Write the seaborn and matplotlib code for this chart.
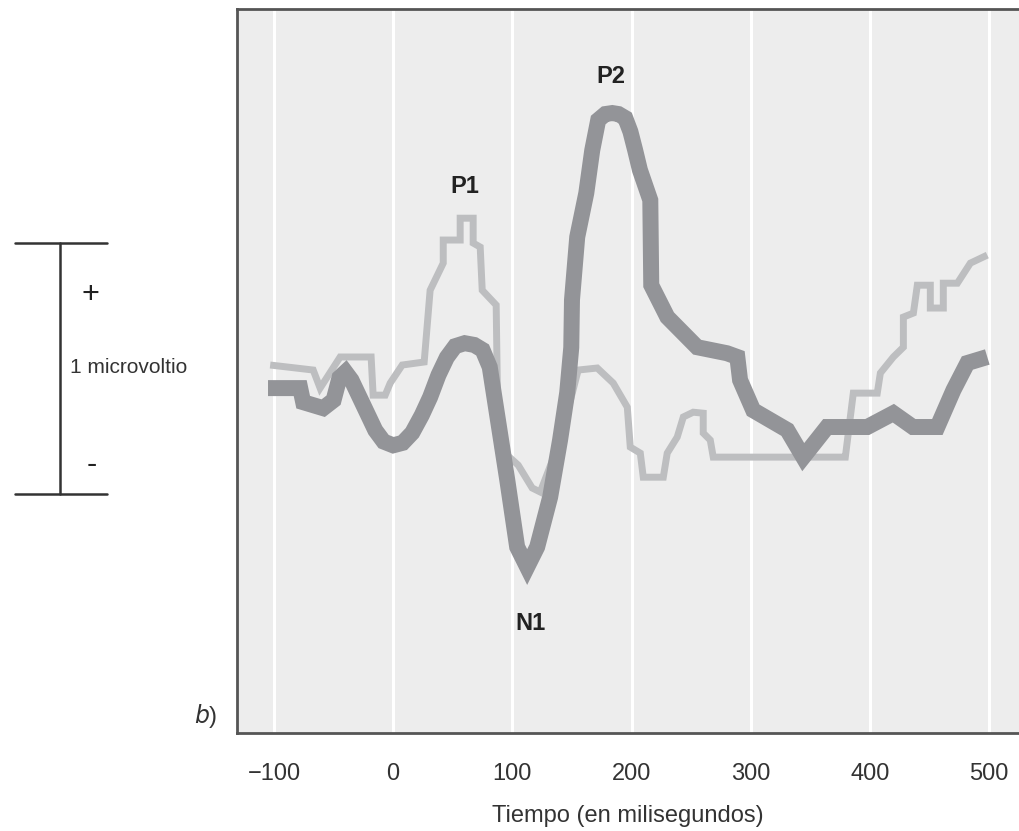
import numpy as np
import pandas as pd
import matplotlib
matplotlib.use("Agg")
import matplotlib.pyplot as plt
import seaborn as sns

# Datos (tiempo en ms, amplitud en microvoltios)
tiempo_fuerte = [-105, -78, -75.5, -58.7, -50, -45, -40, -35, -25, -15, -8, 0, 8, 16, 24, 31,
                 38, 45, 52, 60, 68, 75, 81, 87, 95.7, 104, 112.4, 120.8, 131.7, 140, 146,
                 149.4, 150, 154.4, 162, 167, 172, 178, 183.8, 189, 194.7, 199, 203, 207,
                 215.7, 216.5, 230, 255, 280, 288.7, 291, 302, 330.6, 344, 364, 397.7,
                 419.6, 436, 456.5, 470, 481.7, 498.4]
amplitud_fuerte = [-0.012, -0.012, -0.068, -0.092, -0.060, 0.030, 0.052, 0.020, -0.080,
                   -0.180, -0.225, -0.240, -0.230, -0.190, -0.120, -0.048, 0.040, 0.110,
                   0.155, 0.167, 0.160, 0.140, 0.072, -0.112, -0.378, -0.645, -0.725,
                   -0.645, -0.446, -0.219, -0.030, 0.150, 0.339, 0.590, 0.765, 0.936,
                   1.056, 1.080, 1.084, 1.080, 1.064, 1.010, 0.936, 0.857, 0.737, 0.398,
                   0.271, 0.151, 0.127, 0.112, 0.020, -0.100, -0.179, -0.287, -0.167,
                   -0.167, -0.112, -0.167, -0.167, -0.020, 0.088, 0.112]

tiempo_debil = [-103.2, -67.1, -61.3, -44.5, -18.5, -16.8, -6.7, -2.5, 7.6, 26.0, 31.0, 42.0,
                42.0, 56.2, 56.2, 67.1, 67.1, 73.0, 74.7, 86.4, 88.1, 104.9, 116.6, 123.4,
                140.1, 155.2, 171.2, 184.6, 196.4, 198.9, 207.3, 209.8, 226.6, 229.9, 238.3,
                243.4, 251.7, 260.1, 260.1, 266.0, 268.5, 377.6, 379.3, 386.0, 406.1, 408.7,
                419.6, 428.0, 428.0, 436.4, 439.7, 450.6, 450.6, 461.5, 461.5, 473.3, 484.2,
                498.4]
amplitud_debil = [0.080, 0.060, -0.012, 0.112, 0.112, -0.040, -0.040, 0.008, 0.080, 0.092,
                  0.378, 0.486, 0.578, 0.578, 0.665, 0.665, 0.566, 0.550, 0.378, 0.319,
                  -0.247, -0.319, -0.410, -0.426, -0.219, 0.060, 0.068, 0.008, -0.088,
                  -0.247, -0.271, -0.367, -0.367, -0.271, -0.207, -0.127, -0.108, -0.112,
                  -0.191, -0.219, -0.287, -0.287, -0.287, -0.032, -0.032, 0.048, 0.112,
                  0.151, 0.271, 0.287, 0.398, 0.398, 0.307, 0.307, 0.406, 0.406, 0.486,
                  0.518]

ticks_x = [-100, 0, 100, 200, 300, 400, 500]
etiquetas_x = ["\u2212100", "0", "100", "200", "300", "400", "500"]

picos = ["P1", "P2", "N1"]
picos_x = [60, 183, 115]
picos_y = [0.79, 1.23, -0.95]

df_fuerte = pd.DataFrame({"t": tiempo_fuerte, "v": amplitud_fuerte})
df_debil = pd.DataFrame({"t": tiempo_debil, "v": amplitud_debil})

sns.set_style("white", {"axes.facecolor": "#ededed"})
plt.rcParams["font.family"] = ["Liberation Sans Narrow", "Liberation Sans", "DejaVu Sans"]

fig = plt.figure(figsize=(10.19, 8.31), dpi=100)
ax = fig.add_axes([0.2326, 0.118, 0.7674, 0.871])

for t in ticks_x:
    ax.axvline(t, color="white", lw=2.2, zorder=1)

sns.lineplot(data=df_debil, x="t", y="v", estimator=None, sort=False, ax=ax,
             color="#bdbec0", lw=5, zorder=2)
sns.lineplot(data=df_fuerte, x="t", y="v", estimator=None, sort=False, ax=ax,
             color="#939498", lw=11.5, zorder=3)
for ln in ax.get_lines():
    ln.set_solid_capstyle("butt")
    ln.set_solid_joinstyle("miter")

ax.set_xlim(-131, 525)
ax.set_ylim(-1.386, 1.498)
ax.set_xticks(ticks_x)
ax.set_xticklabels(etiquetas_x, fontsize=17, color="#333333")
ax.set_yticks([])
ax.tick_params(axis="x", length=0, pad=22)
ax.set_xlabel("Tiempo (en milisegundos)", fontsize=17, color="#333333", labelpad=14)
ax.set_ylabel("")

for lado in ["left", "top", "bottom"]:
    ax.spines[lado].set_color("#555555")
    ax.spines[lado].set_linewidth(2)
ax.spines["right"].set_visible(False)

for nombre, px, py in zip(picos, picos_x, picos_y):
    ax.text(px, py, nombre, fontsize=17, fontweight="bold", color="#222222",
            ha="center", va="center")

# barra de escala de 1 microvoltio
ax.plot([-317, -240], [0.566, 0.566], color="#333333", lw=1.8, clip_on=False)
ax.plot([-317, -240], [-0.434, -0.434], color="#333333", lw=1.8, clip_on=False)
ax.plot([-279.4, -279.4], [0.566, -0.434], color="#333333", lw=1.8, clip_on=False)
ax.text(-254, 0.36, "+", fontsize=22, color="#222222", ha="center", va="center")
ax.text(-252.6, -0.32, "-", fontsize=22, color="#222222", ha="center", va="center")
ax.text(-271, 0.072, "1 microvoltio", fontsize=15, color="#333333", ha="left", va="center")
ax.text(-147, -1.319, "$b$)", fontsize=17, color="#333333", ha="right", va="center")

fig.savefig("out.png", dpi=100)
